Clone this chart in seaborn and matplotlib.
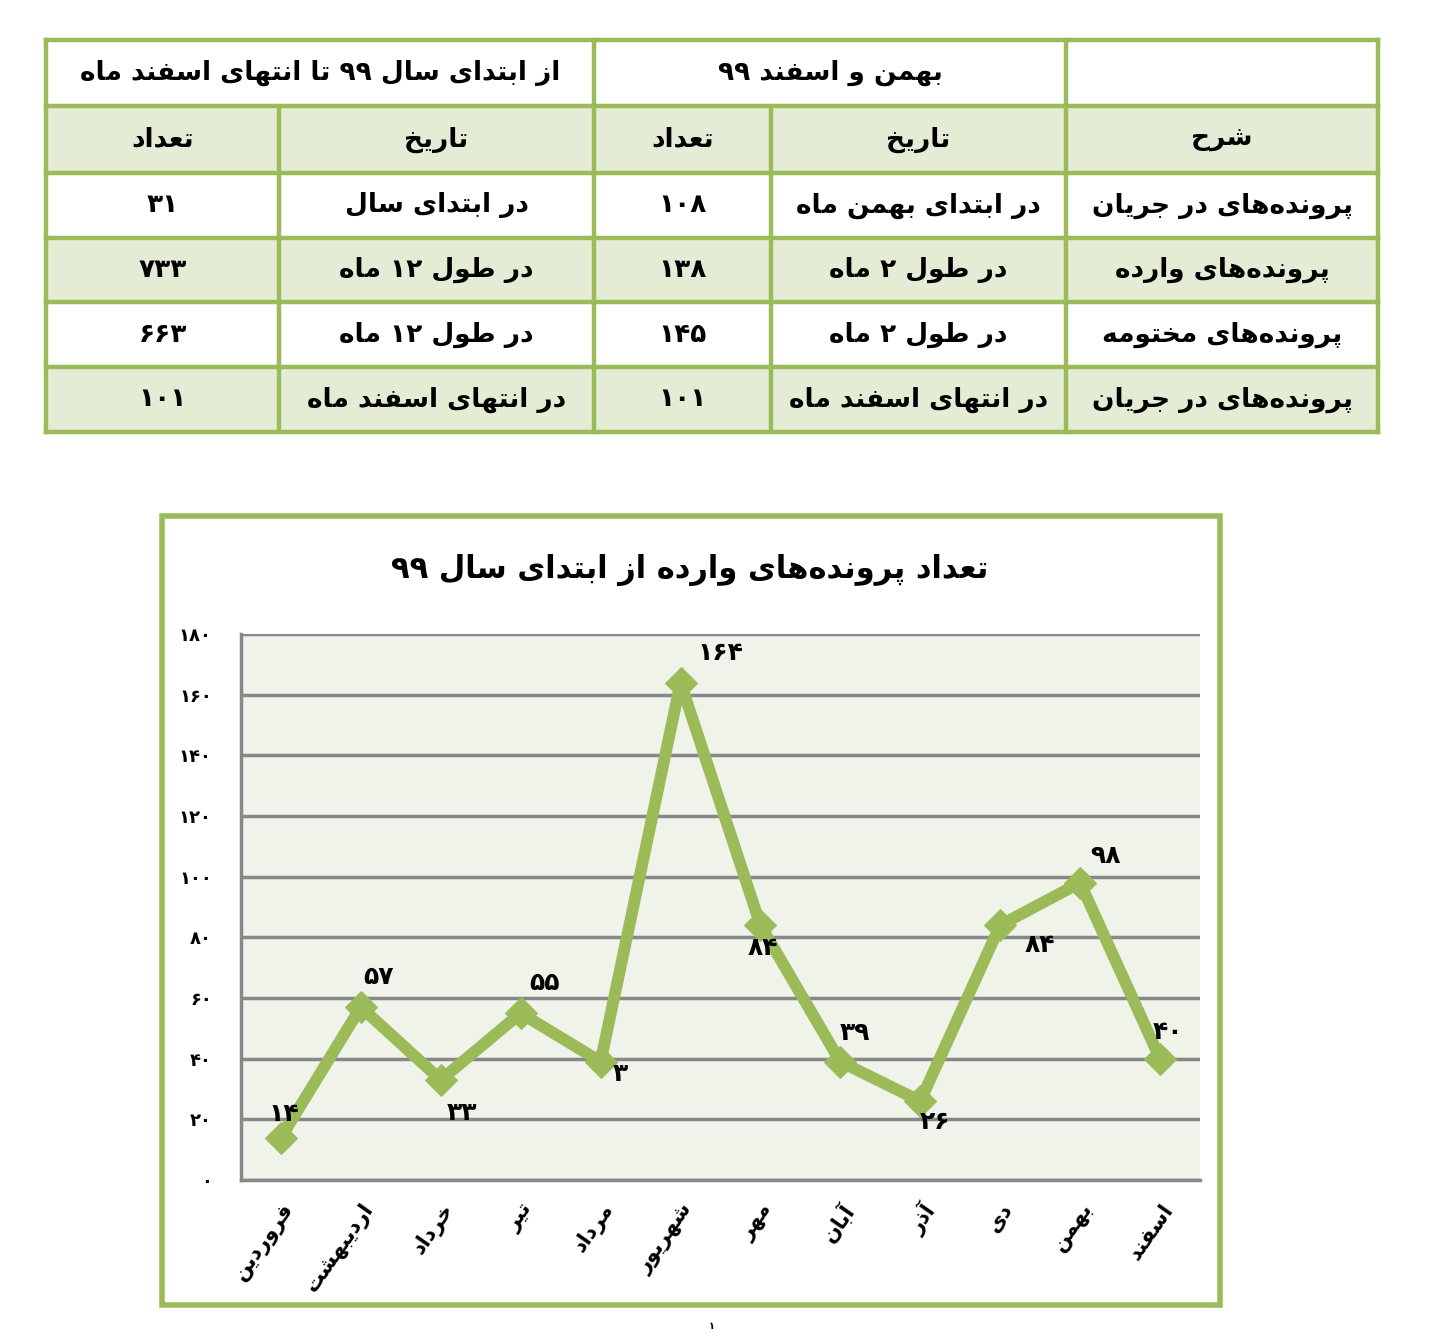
import matplotlib
matplotlib.use("Agg")
import matplotlib.pyplot as plt
import seaborn as sns
import pandas as pd
from matplotlib.patches import Rectangle

# ---- data ----
months = ["فروردین", "اردیبهشت", "خرداد", "تیر", "مرداد", "شهریور",
          "مهر", "آبان", "آذر", "دی", "بهمن", "اسفند"]
counts = [14, 57, 33, 55, 39, 164, 84, 39, 26, 84, 98, 40]
point_labels = ["۱۴", "۵۷", "۳۳", "۵۵", "۳", "۱۶۴", "۸۴", "۳۹", "۲۶", "۸۴", "۹۸", "۴۰"]
y_ticks = [0, 20, 40, 60, 80, 100, 120, 140, 160, 180]
chart_title = "تعداد پرونده‌های وارده از ابتدای سال ۹۹"

table_top = ["از ابتدای سال ۹۹ تا انتهای اسفند ماه", "بهمن و اسفند ۹۹", ""]
table_head = ["تعداد", "تاریخ", "تعداد", "تاریخ", "شرح"]
table_rows = [
    ["۳۱", "در ابتدای سال", "۱۰۸", "در ابتدای بهمن ماه", "پرونده‌های در جریان"],
    ["۷۳۳", "در طول ۱۲ ماه", "۱۳۸", "در طول ۲ ماه", "پرونده‌های وارده"],
    ["۶۶۳", "در طول ۱۲ ماه", "۱۴۵", "در طول ۲ ماه", "پرونده‌های مختومه"],
    ["۱۰۱", "در انتهای اسفند ماه", "۱۰۱", "در انتهای اسفند ماه", "پرونده‌های در جریان"],
]

GREEN = "#9BBB59"
CELL_GREEN = "#E5ECD6"
PLOT_BG = "#EFF3EA"

# ---- minimal Persian shaping (no arabic_reshaper available) ----
FORMS = {
    "\u0622": ("\uFE81", "\uFE82"),
    "\u0627": ("\uFE8D", "\uFE8E"),
    "\u062F": ("\uFEA9", "\uFEAA"),
    "\u0630": ("\uFEAB", "\uFEAC"),
    "\u0631": ("\uFEAD", "\uFEAE"),
    "\u0632": ("\uFEAF", "\uFEB0"),
    "\u0648": ("\uFEED", "\uFEEE"),
    "\u0628": ("\uFE8F", "\uFE90", "\uFE91", "\uFE92"),
    "\u062A": ("\uFE95", "\uFE96", "\uFE97", "\uFE98"),
    "\u062C": ("\uFE9D", "\uFE9E", "\uFE9F", "\uFEA0"),
    "\u062D": ("\uFEA1", "\uFEA2", "\uFEA3", "\uFEA4"),
    "\u062E": ("\uFEA5", "\uFEA6", "\uFEA7", "\uFEA8"),
    "\u0633": ("\uFEB1", "\uFEB2", "\uFEB3", "\uFEB4"),
    "\u0634": ("\uFEB5", "\uFEB6", "\uFEB7", "\uFEB8"),
    "\u0637": ("\uFEC1", "\uFEC2", "\uFEC3", "\uFEC4"),
    "\u0639": ("\uFEC9", "\uFECA", "\uFECB", "\uFECC"),
    "\u0641": ("\uFED1", "\uFED2", "\uFED3", "\uFED4"),
    "\u0644": ("\uFEDD", "\uFEDE", "\uFEDF", "\uFEE0"),
    "\u0645": ("\uFEE1", "\uFEE2", "\uFEE3", "\uFEE4"),
    "\u0646": ("\uFEE5", "\uFEE6", "\uFEE7", "\uFEE8"),
    "\u0647": ("\uFEE9", "\uFEEA", "\uFEEB", "\uFEEC"),
    "\u067E": ("\uFB56", "\uFB57", "\uFB58", "\uFB59"),
    "\u06CC": ("\uFBFC", "\uFBFD", "\uFBFE", "\uFBFF"),
}
DIGITS = set("0123456789۰۱۲۳۴۵۶۷۸۹")


def fa(text):
    out = []
    n = len(text)
    for i, ch in enumerate(text):
        if ch not in FORMS:
            if ch != "\u200c":
                out.append(ch)
            continue
        forms = FORMS[ch]
        prev_j = i > 0 and text[i - 1] in FORMS and len(FORMS[text[i - 1]]) == 4
        next_j = i < n - 1 and text[i + 1] in FORMS
        if len(forms) == 2:
            out.append(forms[1] if prev_j else forms[0])
        else:
            if prev_j and next_j:
                out.append(forms[3])
            elif prev_j:
                out.append(forms[1])
            elif next_j:
                out.append(forms[2])
            else:
                out.append(forms[0])
    # visual order: reverse, keep digit runs left-to-right
    rev = out[::-1]
    res, run = [], []
    for ch in rev:
        if ch in DIGITS:
            run.append(ch)
        else:
            if run:
                res.extend(run[::-1])
                run = []
            res.append(ch)
    res.extend(run[::-1])
    return "".join(res)


def fa_num(v):
    return "".join("۰۱۲۳۴۵۶۷۸۹"[int(d)] for d in str(v))


sns.set_style("white")
plt.rcParams["font.family"] = ["DejaVu Sans"]
plt.rcParams["font.weight"] = "bold"
plt.rcParams["text.color"] = "black"
plt.rcParams["xtick.color"] = "black"
plt.rcParams["ytick.color"] = "black"

W, H = 1430, 1338
fig = plt.figure(figsize=(W / 100, H / 100), dpi=100)

# ---- table (drawn in pixel coordinates on a full-figure axes) ----
bg = fig.add_axes([0, 0, 1, 1])
bg.set_xlim(0, W)
bg.set_ylim(H, 0)
bg.axis("off")

cols = [46, 279, 594, 771, 1066, 1378]
rows = [40, 106, 173, 238, 302, 367, 432]
for r in range(1, 6):
    if r % 2 == 1:
        bg.add_patch(Rectangle((cols[0], rows[r]), cols[-1] - cols[0], rows[r + 1] - rows[r],
                               facecolor=CELL_GREEN, edgecolor="none", zorder=1))
for y in rows:
    bg.plot([cols[0], cols[-1]], [y, y], color=GREEN, lw=3.2, zorder=2, solid_capstyle="projecting")
for x in [46, 594, 1066, 1378]:
    bg.plot([x, x], [rows[0], rows[-1]], color=GREEN, lw=3.2, zorder=2, solid_capstyle="projecting")
for x in [279, 771]:
    bg.plot([x, x], [rows[1], rows[-1]], color=GREEN, lw=3.2, zorder=2)

top_spans = [(46, 594), (594, 1066), (1066, 1378)]
for (x0, x1), txt in zip(top_spans, table_top):
    bg.text((x0 + x1) / 2, (rows[0] + rows[1]) / 2, fa(txt), ha="center", va="center",
            fontsize=19, fontweight="bold", zorder=3)
for ri, line in enumerate([table_head] + table_rows):
    yc = (rows[ri + 1] + rows[ri + 2]) / 2
    for ci, txt in enumerate(line):
        bg.text((cols[ci] + cols[ci + 1]) / 2, yc, fa(txt), ha="center", va="center",
                fontsize=19, fontweight="bold", zorder=3)

# chart frame
bg.add_patch(Rectangle((162, 516), 1058, 789, facecolor="white", edgecolor=GREEN,
                       lw=4, zorder=1))
bg.text(690, 570, fa(chart_title), ha="center", va="center", fontsize=22,
        fontweight="bold", zorder=3)
bg.text(712, 1326, fa("۱"), ha="center", va="center", fontsize=7, zorder=3)

# ---- line chart ----
ax = fig.add_axes([241 / W, 1 - 1180 / H, 959 / W, 546 / H])
ax.set_facecolor(PLOT_BG)
df = pd.DataFrame({"month": months, "count": counts})
sns.lineplot(data=df, x="month", y="count", ax=ax, color=GREEN, lw=8.5,
             marker="D", markersize=16, markeredgecolor=GREEN, sort=False, zorder=4)
ax.set_xlim(-0.5, len(months) - 0.5)
ax.set_ylim(0, 180)
ax.set_yticks(y_ticks)
ax.set_yticklabels([fa_num(v) for v in y_ticks], fontsize=13, fontweight="bold")
ax.set_xticks(range(len(months)))
ax.set_xticklabels([fa(m) for m in months], rotation=55, ha="right", va="top",
                   rotation_mode="anchor", fontsize=15, fontweight="bold")
ax.tick_params(axis="y", length=0, pad=21)
ax.tick_params(axis="x", length=0, pad=14)
ax.yaxis.grid(True, color="#888888", lw=2.5, zorder=0)
ax.set_axisbelow(True)
for s in ["top", "right"]:
    ax.spines[s].set_visible(False)
for s in ["left", "bottom"]:
    ax.spines[s].set_color("#888888")
    ax.spines[s].set_linewidth(2.5)
ax.set_xlabel("")
ax.set_ylabel("")

label_offsets = [(3, 24), (18, 30), (21, -33), (24, 30), (20, -12), (40, 30),
                 (2, -23), (15, 29), (15, -21), (40, -20), (25, 27), (8, 27)]
for i, (v, lab, off) in enumerate(zip(counts, point_labels, label_offsets)):
    ax.annotate(fa(lab), (i, v), xytext=off, textcoords="offset pixels",
                ha="center", va="center", fontsize=18, fontweight="bold", zorder=5,
                annotation_clip=False)

fig.savefig("out.png", dpi=100)
